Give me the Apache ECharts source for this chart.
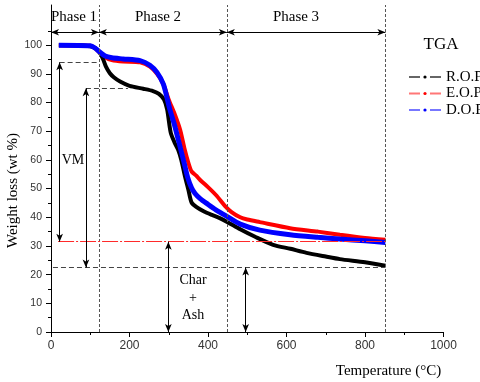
<!DOCTYPE html>
<html>
<head>
<meta charset="utf-8">
<script src="https://cdn.jsdelivr.net/npm/echarts@6/dist/echarts.min.js"></script>
<style>html,body{margin:0;padding:0;background:#fff}#c{width:480px;height:382px}</style>
</head>
<body>
<div id="c"></div>
<script>
// ---- data ----
const tempROP = [20, 60, 100, 115, 125, 133, 140, 150, 160, 176, 200, 235, 260, 275, 288, 296, 305, 315, 324, 332, 341, 350, 358, 370, 390, 410, 430, 450, 482, 520, 566, 610, 651, 700, 736, 800, 852];
const lossROP = [100, 100, 99.6, 98.8, 97.2, 95, 92.5, 90.2, 88.8, 87.3, 85.8, 84.8, 84, 83, 81, 77.5, 69.5, 66, 63.5, 60, 54.5, 49.6, 45.2, 43.6, 42, 40.8, 39.7, 38.3, 35.8, 33.2, 30.4, 29, 27.6, 26.3, 25.4, 24.3, 23.1];

const tempEOP = [20, 100, 112, 125, 138, 155, 184, 227, 252, 270, 286, 300, 315, 329, 340, 350, 358, 370, 380, 400, 422, 443, 460, 482, 500, 532, 609, 680, 736, 800, 852];
const lossEOP = [100, 99.8, 99, 97.3, 95.8, 94.8, 94.3, 94, 92.5, 90, 86.5, 81, 76, 70.5, 64, 59, 56, 54.5, 53, 50.5, 47.5, 44, 41.8, 40, 39.2, 38.3, 36.2, 35, 33.9, 32.8, 32.2];

const tempDOP = [20, 100, 112, 125, 138, 155, 184, 227, 252, 270, 286, 295, 303, 315, 329, 340, 348, 358, 367, 380, 400, 420, 448, 482, 532, 609, 680, 736, 800, 852];
const lossDOP = [100, 99.8, 99, 97.5, 96.2, 95.6, 95.2, 94.6, 93, 90.5, 86.5, 82, 77.5, 72, 64.5, 58.5, 54, 50.3, 48.3, 46.5, 44.5, 42.6, 40.3, 37.6, 35.5, 33.9, 33, 32.4, 31.8, 31.2];

const seriesNames = ['R.O.P', 'E.O.P', 'D.O.P'];
const xTicks = [0, 200, 400, 600, 800, 1000];
const yTicks = [0, 10, 20, 30, 40, 50, 60, 70, 80, 90, 100];

// annotations
const phaseNames = ['Phase 1', 'Phase 2', 'Phase 3'];
const phaseStarts = [0, 122, 448];
const phaseEnds = [122, 448, 852];
const phaseArrowLevel = 104.5;
const guideLevels = [94, 85];
const guideFrom = [22, 89];
const guideTo = [122, 196];
const residueLevels = [31.5, 22.5];
const residueFrom = [18, 5];
const residueTo = [852, 852];
const vmArrowTemps = [22, 89];
const charArrowTemps = [299, 496];

const pair = (arrT, arrV) => arrT.map((t, i) => [t, arrV[i]]);

const chart = echarts.init(document.getElementById('c'), null, {renderer: 'canvas'});
const serif = 'Liberation Serif';
const sans = 'Liberation Sans';

function seg(x1, y1, x2, y2, style, s1, s2) {
  return [
    {coord: [x1, y1], symbol: s1, lineStyle: style, itemStyle: {color: '#000'}},
    {coord: [x2, y2], symbol: s2, itemStyle: {color: '#000'}}
  ];
}
const arrowStyle = {color: '#000', width: 1, type: 'solid'};
const dotStyle = {color: '#555', width: 1, type: [3, 2]};
const dashStyle = {color: '#444', width: 1, type: [5, 3]};

const marks = [];
phaseEnds.forEach(t => marks.push(seg(t, 0, t, 114, dotStyle, 'none', 'none')));
phaseStarts.forEach((s, i) => marks.push(seg(s, phaseArrowLevel, phaseEnds[i], phaseArrowLevel, arrowStyle, 'arrow', 'arrow')));
guideLevels.forEach((v, i) => marks.push(seg(guideFrom[i], v, guideTo[i], v, dashStyle, 'none', 'none')));
marks.push(seg(residueFrom[0], residueLevels[0], residueTo[0], residueLevels[0], {color: '#ff2a2a', width: 1.2, type: [16, 2, 2, 2]}, 'none', 'none'));
marks.push(seg(residueFrom[1], residueLevels[1], residueTo[1], residueLevels[1], dashStyle, 'none', 'none'));
vmArrowTemps.forEach((t, i) => marks.push(seg(t, guideLevels[i], t, residueLevels[i], arrowStyle, 'arrow', 'arrow')));
charArrowTemps.forEach((t, i) => marks.push(seg(t, residueLevels[i], t, 0, arrowStyle, 'arrow', 'arrow')));

const colors = {'R.O.P': '#000000', 'E.O.P': '#ff0000', 'D.O.P': '#0000ff'};
const legendLine = {'R.O.P': '#666666', 'E.O.P': '#ff7777', 'D.O.P': '#7777ff'};

function curve(name, data, width) {
  return {
    name, type: 'line', data, smooth: 0.25, symbol: 'circle', showSymbol: false,
    color: colors[name],
    lineStyle: {color: colors[name], width},
    silent: true, z: 2
  };
}

chart.setOption({
  animation: false,
  backgroundColor: '#fff',
  grid: {left: 51, right: 36.5, top: 5, bottom: 50, containLabel: false, outerBoundsMode: 'none'},
  xAxis: {
    type: 'value', min: 0, max: 1000, interval: 200,
    name: 'Temperature (°C)', nameLocation: 'end', nameGap: -55, nameMoveOverlap: false,
    nameTextStyle: {fontFamily: serif, fontSize: 15, color: '#000', align: 'center', verticalAlign: 'top', padding: [32, 0, 0, 0]},
    axisLine: {lineStyle: {color: '#000', width: 1}},
    axisTick: {show: true, inside: false, length: 5, lineStyle: {color: '#000'}},
    minorTick: {show: true, splitNumber: 2, length: 3, lineStyle: {color: '#000'}},
    splitLine: {show: false},
    axisLabel: {fontFamily: sans, fontSize: 12, color: '#333', margin: 8, customValues: xTicks, formatter: v => String(v)}
  },
  yAxis: {
    type: 'value', min: 0, max: 114, interval: 10,
    name: 'Weight loss (wt %)', nameLocation: 'middle', nameGap: 30, nameMoveOverlap: false,
    nameTextStyle: {fontFamily: serif, fontSize: 15, color: '#000', padding: [0, 44, 0, 0]},
    axisLine: {show: true, lineStyle: {color: '#000', width: 1}},
    axisTick: {show: true, inside: false, length: 5, lineStyle: {color: '#000'}, customValues: yTicks},
    minorTick: {show: true, splitNumber: 2, length: 3, lineStyle: {color: '#000'}},
    splitLine: {show: false},
    axisLabel: {fontFamily: sans, fontSize: 10.5, color: '#333', margin: 9, customValues: yTicks, formatter: v => String(v)}
  },
  legend: {
    orient: 'vertical', left: 408, top: 69, padding: 0,
    itemWidth: 32, itemHeight: 4, itemGap: 0.5,
    selectedMode: false,
    textStyle: {fontFamily: serif, fontSize: 15, lineHeight: 16, color: '#000', overflow: 'none'},
    data: seriesNames.map(n => ({
      name: n,
      lineStyle: {color: legendLine[n], width: 2, type: [11, 10]},
      itemStyle: {color: colors[n]}
    }))
  },
  graphic: [
    {type: 'text', x: 441, y: 45, style: {text: 'TGA', font: '17px "Liberation Serif"', fill: '#000', align: 'center', verticalAlign: 'middle'}},
    ...phaseNames.map((p, i) => ({type: 'text', x: [74, 158, 296][i], y: 17, style: {text: p, font: '15px "Liberation Serif"', fill: '#000', align: 'center', verticalAlign: 'middle'}})),
    {type: 'text', x: 73, y: 160, style: {text: 'VM', font: '14px "Liberation Serif"', fill: '#000', align: 'center', verticalAlign: 'middle'}},
    {type: 'text', x: 193, y: 298, style: {text: 'Char\n+\nAsh', font: '14px "Liberation Serif"', lineHeight: 17.5, fill: '#000', align: 'center', verticalAlign: 'middle'}}
  ],
  series: [
    curve('E.O.P', pair(tempEOP, lossEOP), 4),
    curve('R.O.P', pair(tempROP, lossROP), 4),
    curve('D.O.P', pair(tempDOP, lossDOP), 5),
    {
      name: 'annotations', type: 'line', data: [], silent: true, z: 4, color: '#000',
      markLine: {
        silent: true, animation: false, symbolSize: [5, 8],
        label: {show: false},
        emphasis: {disabled: true},
        data: marks
      }
    }
  ]
});
</script>
</body>
</html>
